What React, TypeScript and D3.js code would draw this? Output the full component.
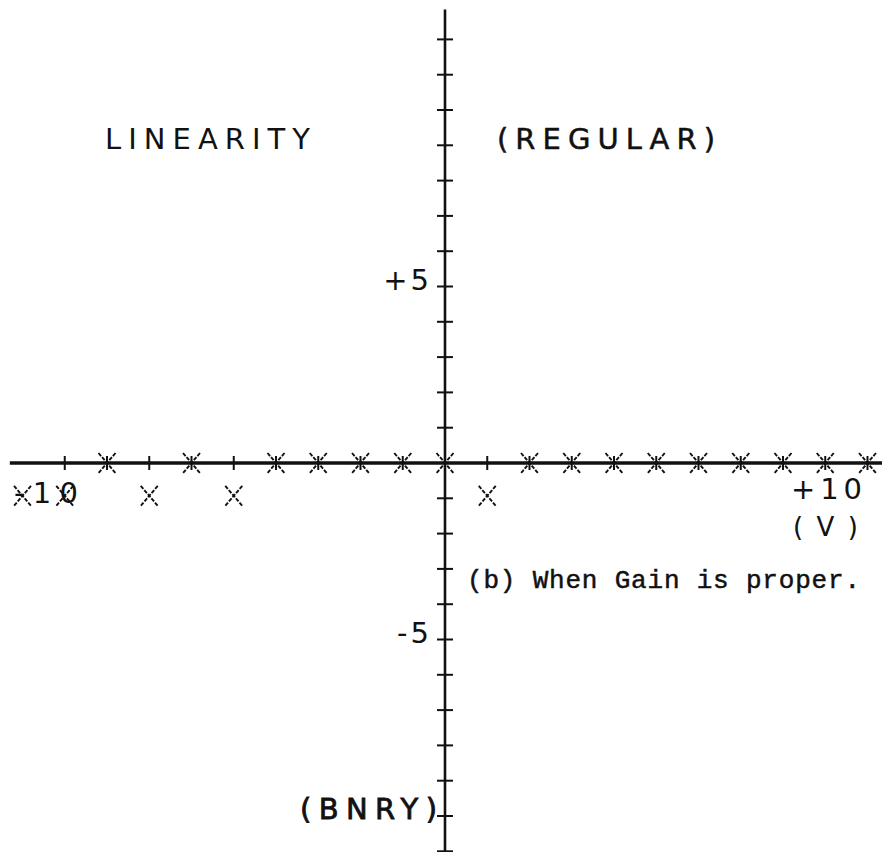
import React from "react";
import * as d3 from "d3";

// Input voltage steps (V) and the output deviation read at each step
const inputSteps = [-10, -9, -8, -7, -6, -5, -4, -3, -2, -1, 0, 1, 2, 3, 4, 5, 6, 7, 8, 9, 10];
const measured = [-0.93, -0.93, 0, -0.93, 0, -0.93, 0, 0, 0, 0, 0, -0.93, 0, 0, 0, 0, 0, 0, 0, 0, 0];
// Ideal output marks ("+") on the zero line
const idealSteps = [-9, -8, -7, -6, -5, -4, -3, -2, -1, 0, 1, 2, 3, 4, 5, 6, 7, 8, 9, 10];
const idealValues = idealSteps.map(() => 0);
// Vertical axis ticks
const yTicks = d3.range(-11, 13);
const yTickLabels = [
  { v: 5, text: "+5" },
  { v: -5, text: "-5" },
];

const W = 882;
const H = 852;

const x = d3.scaleLinear().domain([-10, 10]).range([22.5, 867.5]);
const y = d3.scaleLinear().domain([-5, 5]).range([639.5, 286.5]);

const plotFont = "'DejaVu Sans', 'Liberation Sans', sans-serif";
const typeFont = "'Liberation Mono', 'Courier New', monospace";

function Cross({ cx, cy }: { cx: number; cy: number }) {
  return (
    <g stroke="#111" strokeWidth={1.9} strokeDasharray="4 1.5" fill="none">
      <line x1={cx - 8.5} y1={cy - 10} x2={cx + 8.5} y2={cy + 10} />
      <line x1={cx + 8.5} y1={cy - 10} x2={cx - 8.5} y2={cy + 10} />
    </g>
  );
}

function Plus({ cx, cy }: { cx: number; cy: number }) {
  return (
    <g stroke="#111" strokeWidth={2} fill="none">
      <line x1={cx} y1={cy - 7} x2={cx} y2={cy + 7} />
      <line x1={cx - 6} y1={cy} x2={cx + 6} y2={cy} />
    </g>
  );
}

type LabelProps = {
  x: number;
  y: number;
  len: number;
  size?: number;
  weight?: number;
  children: string;
};

function PlotLabel({ x: lx, y: ly, len, size = 29, weight = 0, children }: LabelProps) {
  return (
    <text
      x={lx}
      y={ly}
      fontFamily={plotFont}
      fontSize={size}
      textLength={len}
      lengthAdjust="spacing"
      fill="#111"
      stroke="#111"
      strokeWidth={weight}
    >
      {children}
    </text>
  );
}

export default function App() {
  const x0 = x(0);
  const y0 = y(0);
  return (
    <svg
      width={W}
      height={H}
      viewBox={`0 0 ${W} ${H}`}
      style={{ position: "absolute", left: 0, top: 0, background: "#fff" }}
    >
      <rect x={0} y={0} width={W} height={H} fill="#fff" />

      {/* horizontal (input) axis */}
      <line x1={x(-10.3)} y1={y0} x2={W} y2={y0} stroke="#111" strokeWidth={3.5} />
      {/* vertical (output) axis */}
      <line x1={x0} y1={y(12.85)} x2={x0} y2={H} stroke="#111" strokeWidth={2.6} />
      {yTicks.map((t) => (
        <line
          key={`yt${t}`}
          x1={x0 - 8}
          x2={x0 + 8}
          y1={y(t)}
          y2={y(t)}
          stroke="#111"
          strokeWidth={2}
        />
      ))}

      {/* tick labels on the vertical axis */}
      {yTickLabels.map((d) => (
        <text
          key={d.text}
          x={x0 - 13}
          y={y(d.v) + 3}
          textAnchor="end"
          fontFamily={plotFont}
          fontSize={29}
          letterSpacing={3}
          fill="#111"
        >
          {d.text}
        </text>
      ))}

      {/* ideal marks */}
      {idealSteps.map((s, i) => (
        <Plus key={`p${s}`} cx={x(s)} cy={y(idealValues[i])} />
      ))}
      {/* measured marks */}
      {inputSteps.map((s, i) => (
        <Cross key={`m${s}`} cx={x(s)} cy={y(measured[i])} />
      ))}

      {/* titles and range labels */}
      <PlotLabel x={105} y={149} len={205}>LINEARITY</PlotLabel>
      <PlotLabel x={497} y={149} len={218} weight={0.5}>(REGULAR)</PlotLabel>
      <PlotLabel x={300} y={819} len={137} weight={0.8}>(BNRY)</PlotLabel>
      <PlotLabel x={14} y={503} len={64}>-10</PlotLabel>
      <PlotLabel x={791} y={499} len={71}>+10</PlotLabel>
      <PlotLabel x={793} y={536} len={65} size={26}>(V)</PlotLabel>

      {/* caption */}
      <text
        x={467}
        y={588}
        fontFamily={typeFont}
        fontSize={26}
        textLength={393}
        lengthAdjust="spacing"
        fill="#111"
        stroke="#111"
        strokeWidth={0.5}
      >
        (b) When Gain is proper.
      </text>
    </svg>
  );
}
